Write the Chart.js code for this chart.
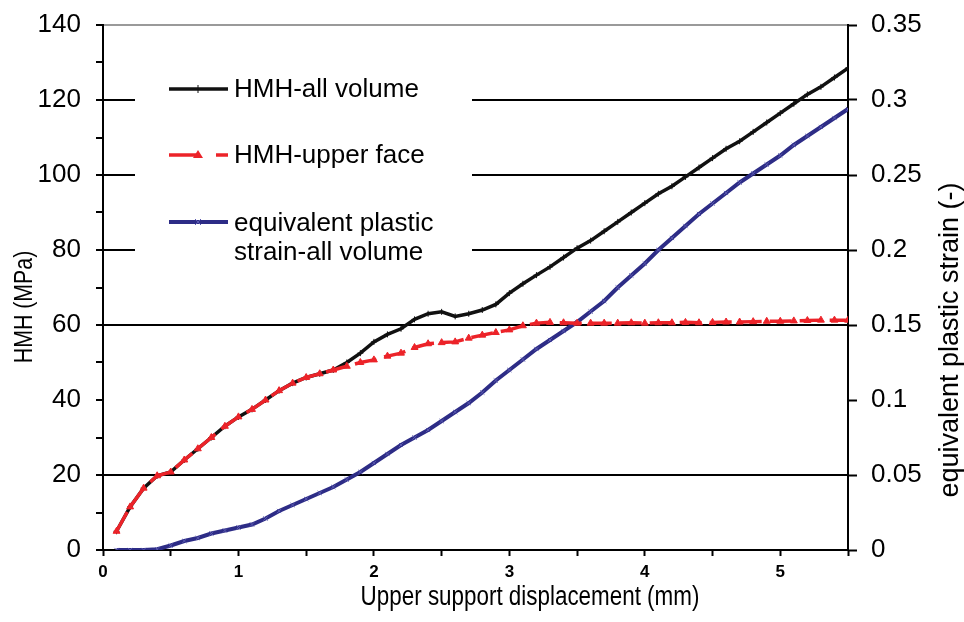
<!DOCTYPE html>
<html lang="en">
<head>
    <meta charset="UTF-8">
    <title>HMH and equivalent plastic strain</title>
    <script src="https://cdn.jsdelivr.net/npm/chart.js"></script>
    <style>
        html, body {
            margin: 0;
            padding: 0;
            background: #ffffff;
        }
        #wrap {
            width: 964px;
            height: 622px;
        }
    </style>
</head>
<body>
    <div id="wrap"><canvas id="hmhChart" width="964" height="622"></canvas></div>

    <script>
        // upper support displacement (mm)
        const displacement = [
            0.1, 0.2, 0.3, 0.4, 0.5, 0.6, 0.7, 0.8, 0.9, 1.0,
            1.1, 1.2, 1.3, 1.4, 1.5, 1.6, 1.7, 1.8, 1.9, 2.0,
            2.1, 2.2, 2.3, 2.4, 2.5, 2.6, 2.7, 2.8, 2.9, 3.0,
            3.1, 3.2, 3.3, 3.4, 3.5, 3.6, 3.7, 3.8, 3.9, 4.0,
            4.1, 4.2, 4.3, 4.4, 4.5, 4.6, 4.7, 4.8, 4.9, 5.0,
            5.1, 5.2, 5.3, 5.4, 5.5
        ];
        // HMH over the whole volume (MPa)
        const hmhAllVolume = [
            5, 11.5, 16.5, 19.8, 20.8, 24, 27, 30, 33, 35.5,
            37.5, 40, 42.5, 44.5, 46, 47, 48, 50, 52.5, 55.5,
            57.5, 59, 61.5, 63, 63.5, 62.3, 63, 64, 65.5, 68.5,
            71, 73.3, 75.5, 78, 80.5, 82.5, 85, 87.5, 90, 92.5,
            95, 97, 99.5, 102, 104.5, 107, 109, 111.5, 114, 116.5,
            119, 121.5, 123.5, 126, 128.5
        ];
        // HMH on the upper face (MPa)
        const hmhUpperFace = [
            5, 11.5, 16.5, 19.8, 20.8, 24, 27, 30, 33, 35.5,
            37.5, 40, 42.5, 44.5, 46, 47, 48, 49, 50, 50.7,
            51.7, 52.5, 54, 55, 55.3, 55.5, 56.5, 57.3, 58, 58.7,
            59.8, 60.5, 60.7, 60.6, 60.5, 60.5, 60.5, 60.5, 60.6, 60.5,
            60.6, 60.6, 60.7, 60.6, 60.7, 60.8, 60.8, 60.9, 61, 61,
            61.1, 61.2, 61.3, 61.3, 61.3
        ];
        // equivalent plastic strain over the whole volume (-)
        const plasticStrain = [
            0, 0, 0, 0.0005, 0.003, 0.006, 0.008, 0.011, 0.013, 0.015,
            0.017, 0.021, 0.026, 0.030, 0.034, 0.038, 0.042, 0.047, 0.052, 0.058,
            0.064, 0.070, 0.075, 0.080, 0.086, 0.092, 0.098, 0.105, 0.113, 0.120,
            0.127, 0.134, 0.140, 0.146, 0.152, 0.159, 0.166, 0.175, 0.183, 0.191,
            0.200, 0.208, 0.216, 0.224, 0.231, 0.238, 0.245, 0.251, 0.257, 0.263,
            0.270, 0.276, 0.282, 0.288, 0.294
        ];

        const seriesNames = ["HMH-all volume", "HMH-upper face", "equivalent plastic strain-all volume"];
        const hmhGridValues = [20, 60, 80, 100, 120];

        const BLACK = "#111111";
        const RED = "#ec2329";
        const BLUE = "#2d2c86";
        const SANS = "'Liberation Sans', Arial, sans-serif";

        function toPoints(xs, ys) {
            return xs.map((x, i) => ({ x: x, y: ys[i] }));
        }

        // condensed text: squeeze along the baseline
        function narrowText(ctx, text, x, y, angle, size, squeeze) {
            ctx.save();
            ctx.translate(x, y);
            ctx.rotate(angle);
            ctx.scale(squeeze, 1);
            ctx.font = size + "px " + SANS;
            ctx.fillText(text, 0, 0);
            ctx.restore();
        }

        // keep the plot box fixed: y scales must not add label padding
        function fitVertical(width) {
            return (scale) => {
                scale.width = width;
                scale.paddingTop = 0;
                scale.paddingBottom = 0;
            };
        }

        // legend box and axis titles drawn straight on the canvas
        const annotations = {
            id: "annotations",
            beforeDatasetsDraw(chart) {
                const ctx = chart.ctx;
                ctx.save();
                ctx.fillStyle = "#ffffff";
                ctx.fillRect(135, 72, 337, 198);

                ctx.lineCap = "butt";
                // black entry
                ctx.strokeStyle = BLACK;
                ctx.lineWidth = 3.5;
                ctx.beginPath(); ctx.moveTo(169, 89); ctx.lineTo(228, 89); ctx.stroke();
                ctx.lineWidth = 1;
                ctx.beginPath(); ctx.moveTo(198, 85); ctx.lineTo(198, 93); ctx.stroke();
                // red entry
                ctx.strokeStyle = RED;
                ctx.lineWidth = 3.5;
                ctx.beginPath(); ctx.moveTo(169, 155); ctx.lineTo(196, 155); ctx.stroke();
                ctx.beginPath(); ctx.moveTo(216, 155); ctx.lineTo(228, 155); ctx.stroke();
                ctx.fillStyle = RED;
                ctx.beginPath(); ctx.moveTo(198, 150); ctx.lineTo(203, 158); ctx.lineTo(193, 158); ctx.closePath(); ctx.fill();
                // blue entry
                ctx.strokeStyle = BLUE;
                ctx.lineWidth = 4;
                ctx.beginPath(); ctx.moveTo(169, 222); ctx.lineTo(228, 222); ctx.stroke();
                ctx.strokeStyle = "#5a59b0";
                ctx.lineWidth = 1;
                ctx.beginPath(); ctx.moveTo(195, 219); ctx.lineTo(201, 225); ctx.moveTo(201, 219); ctx.lineTo(195, 225); ctx.stroke();

                ctx.fillStyle = "#000000";
                ctx.font = "26px " + SANS;
                ctx.textAlign = "left";
                ctx.textBaseline = "middle";
                ctx.fillText(seriesNames[0], 234, 90);
                ctx.fillText(seriesNames[1], 234, 156);
                ctx.fillText("equivalent plastic", 234, 224);
                ctx.fillText("strain-all volume", 234, 253);
                ctx.restore();
            },
            afterDraw(chart) {
                const ctx = chart.ctx;
                ctx.save();
                ctx.fillStyle = "#000000";
                ctx.textAlign = "center";
                ctx.textBaseline = "middle";

                narrowText(ctx, "Upper support displacement (mm)", 530, 598, 0, 27, 0.83);
                narrowText(ctx, "HMH (MPa)", 25, 307, -Math.PI / 2, 26, 0.82);
                narrowText(ctx, "equivalent plastic strain (-)", 951, 340, -Math.PI / 2, 27, 1);

                ctx.restore();
            }
        };

        new Chart(document.getElementById("hmhChart"), {
            type: "line",
            data: {
                datasets: [
                    {
                        label: seriesNames[0],
                        data: toPoints(displacement, hmhAllVolume),
                        yAxisID: "y",
                        borderColor: BLACK,
                        borderWidth: 3.5,
                        pointStyle: "cross",
                        pointRadius: 3,
                        pointBorderWidth: 1,
                        pointBorderColor: BLACK,
                        tension: 0,
                        order: 1
                    },
                    {
                        label: seriesNames[1],
                        data: toPoints(displacement, hmhUpperFace),
                        yAxisID: "y",
                        borderColor: RED,
                        backgroundColor: RED,
                        borderWidth: 3.5,
                        borderDash: [22, 8],
                        pointStyle: "triangle",
                        pointRadius: 4,
                        pointBorderWidth: 1,
                        pointBorderColor: RED,
                        pointBackgroundColor: RED,
                        tension: 0,
                        order: 0
                    },
                    {
                        label: seriesNames[2],
                        data: toPoints(displacement, plasticStrain),
                        yAxisID: "y2",
                        borderColor: BLUE,
                        borderWidth: 4,
                        pointStyle: "crossRot",
                        pointRadius: 3,
                        pointBorderWidth: 1,
                        pointBorderColor: "#5a59b0",
                        tension: 0,
                        order: 2
                    }
                ]
            },
            options: {
                responsive: false,
                animation: false,
                layout: { padding: { top: 25, left: 0, right: 0, bottom: 0 } },
                plugins: {
                    legend: { display: false },
                    tooltip: { enabled: false }
                },
                scales: {
                    x: {
                        type: "linear",
                        min: 0,
                        max: 5.5,
                        afterFit: (scale) => { scale.height = 72; },
                        border: { color: "#000000", width: 2 },
                        grid: { drawOnChartArea: false, tickLength: 6, tickColor: "#000000", tickWidth: 2 },
                        ticks: {
                            stepSize: 0.5,
                            padding: 6,
                            maxRotation: 0,
                            autoSkip: false,
                            color: "#000000",
                            font: { family: SANS, size: 17, weight: "bold" },
                            callback: (v) => Number.isInteger(v) ? String(v) : ""
                        }
                    },
                    y: {
                        position: "left",
                        min: 0,
                        max: 140,
                        afterFit: fitVertical(103),
                        border: { color: "#000000", width: 2 },
                        grid: {
                            tickLength: 7,
                            tickColor: "#000000",
                            tickWidth: 2,
                            lineWidth: 2,
                            color: (c) => {
                                const v = c.tick ? c.tick.value : null;
                                if (v === 140) return "#9a9a9a";
                                return hmhGridValues.includes(v) ? "#000000" : "rgba(0,0,0,0)";
                            }
                        },
                        ticks: {
                            stepSize: 10,
                            padding: 15,
                            autoSkip: false,
                            color: "#000000",
                            font: { family: SANS, size: 26 },
                            callback: (v) => v % 20 === 0 ? String(v) : ""
                        }
                    },
                    y2: {
                        position: "right",
                        min: 0,
                        max: 0.35,
                        afterFit: fitVertical(116),
                        border: { color: "#000000", width: 2 },
                        grid: { drawOnChartArea: false, tickLength: 9, tickColor: "#000000", tickWidth: 2 },
                        ticks: {
                            stepSize: 0.05,
                            padding: 14,
                            autoSkip: false,
                            color: "#000000",
                            font: { family: SANS, size: 26 },
                            callback: (v) => String(Number(v.toFixed(2)))
                        }
                    }
                }
            },
            plugins: [annotations]
        });
    </script>
</body>
</html>
